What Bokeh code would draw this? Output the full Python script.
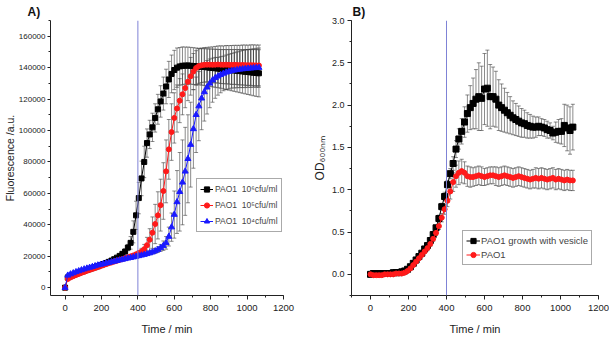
from bokeh.plotting import figure
from bokeh.models import (Range1d, SingleIntervalTicker, ColumnDataSource, Whisker, TeeHead,
                          Span, Legend, LegendItem, NumeralTickFormatter, BasicTickFormatter)
from bokeh.layouts import row
from bokeh.embed import file_html
from bokeh.resources import INLINE

# ---------------- data ----------------
time_min = list(range(0, 1080, 15))  # sampling times (min)
marker_time = 400

# Panel A: fluorescence (a.u.)
a_labels = ["PAO1\u00a0 10\u2076cfu/ml", "PAO1\u00a0 10\u2075cfu/ml", "PAO1\u00a0 10\u2074cfu/ml"]
a_black = [0, 6500, 7300, 8000, 8700, 9300, 10000, 10600, 11200, 11800,
           12400, 13000, 13600, 14300, 15000, 15700, 16400, 17200, 18100, 19100,
           20200, 21500, 23000, 25500, 28500, 35500, 46000, 57000, 69500, 80000,
           92000, 97500, 102000, 108000, 113500, 118500, 123500, 128000, 132500, 136000,
           138500, 140000, 140800, 141200, 141300, 141300, 141200, 141000, 140900, 140700,
           140500, 140400, 140200, 140000, 139800, 139600, 139400, 139200, 139000, 138800,
           138600, 138400, 138200, 138000, 137800, 137600, 137400, 137200, 137000, 136800,
           136600, 136400]
a_black_err = [0, 500, 500, 500, 500, 500, 500, 500, 500, 500,
               500, 500, 500, 500, 500, 500, 600, 700, 800, 900,
               1000, 1200, 1500, 2000, 4000, 7000, 9000, 10000, 11000, 10000,
               9000, 9000, 9000, 9000, 9500, 10000, 10500, 11000, 11500, 12000,
               12500, 12500, 12000, 12000, 11800, 11800, 11700, 11700, 11600, 11600,
               11600, 11700, 11800, 11900, 12000, 12100, 12200, 12300, 12500, 12700,
               12900, 13100, 13300, 13500, 13700, 13900, 14100, 14300, 14500, 14700,
               14900, 15000]
a_red = [0, 5500, 6500, 7300, 8000, 8700, 9400, 10000, 10700, 11300,
         11900, 12500, 13100, 13700, 14300, 14900, 15500, 16000, 16600, 17100,
         17700, 18200, 18800, 19300, 19900, 20500, 21200, 22000, 23000, 24500,
         27000, 30500, 35000, 40500, 46000, 52500, 61500, 74000, 88000, 99000,
         108000, 114000, 119000, 123000, 127000, 131000, 134500, 137500, 139800, 141000,
         141500, 141800, 141900, 141900, 141800, 141900, 142000, 141900, 141800, 141900,
         141800, 141700, 141800, 141700, 141600, 141700, 141600, 141500, 141600, 141500,
         141400, 141400]
a_red_err = [0, 500, 500, 500, 500, 500, 500, 500, 500, 500,
             500, 500, 500, 500, 500, 500, 500, 500, 600, 600,
             700, 700, 800, 800, 900, 1000, 1200, 1500, 2000, 3000,
             5000, 7000, 10000, 12500, 15000, 16500, 18000, 20000, 19000, 18000,
             16000, 15000, 14000, 13000, 12500, 12000, 12000, 11500, 11000, 11000,
             11000, 11000, 11000, 11200, 11400, 11600, 11800, 12000, 12000, 12200,
             12200, 12400, 12400, 12500, 12600, 12700, 12800, 12800, 12900, 13000,
             13000, 13000]
a_blue = [0, 7800, 8600, 9300, 10000, 10600, 11200, 11800, 12300, 12800,
          13300, 13800, 14300, 14700, 15100, 15500, 15900, 16300, 16700, 17100,
          17500, 17900, 18300, 18700, 19000, 19400, 19800, 20200, 20600, 21000,
          21500, 22000, 22600, 23300, 24200, 25300, 26700, 28500, 32500, 38500,
          46500, 54500, 61000, 67000, 74000, 82000, 91000, 101000, 110000, 115500,
          120500, 124500, 127500, 130000, 132000, 133500, 134500, 135500, 136300, 137000,
          137500, 138000, 138300, 138600, 138900, 139100, 139300, 139500, 139600, 139800,
          139900, 140000]
a_blue_err = [0, 500, 500, 500, 500, 500, 500, 500, 500, 500,
              500, 500, 500, 500, 500, 500, 500, 500, 500, 500,
              500, 500, 500, 500, 600, 600, 700, 700, 800, 800,
              900, 1000, 1200, 1500, 1800, 2200, 3000, 4000, 6000, 9000,
              15000, 20000, 25000, 27000, 28000, 28000, 27000, 25000, 24000, 22000,
              20000, 18500, 17000, 15500, 14000, 13000, 12000, 11500, 11000, 11000,
              11000, 11000, 11200, 11400, 11600, 11800, 12000, 12000, 12200, 12200,
              12400, 12500]

# Panel B: OD600nm
b_labels = ["PAO1 growth with vesicle", "PAO1"]
b_black = [0.00, 0.01, 0.01, 0.01, 0.01, 0.01, 0.01, 0.01, 0.02, 0.02,
           0.02, 0.03, 0.04, 0.06, 0.09, 0.13, 0.17, 0.21, 0.25, 0.30,
           0.34, 0.40, 0.47, 0.55, 0.66, 0.80, 0.92, 1.06, 1.19, 1.31,
           1.48, 1.60, 1.69, 1.80, 1.90, 1.97, 2.02, 2.07, 2.10, 2.08,
           2.19, 2.20, 2.10, 2.10, 2.07, 2.00, 1.97, 1.94, 1.91, 1.88,
           1.85, 1.83, 1.81, 1.79, 1.78, 1.76, 1.75, 1.74, 1.74, 1.75,
           1.74, 1.73, 1.71, 1.70, 1.67, 1.68, 1.69, 1.69, 1.76, 1.73,
           1.70, 1.74]
b_black_err = [0.01, 0.01, 0.01, 0.01, 0.01, 0.01, 0.01, 0.01, 0.01, 0.01,
               0.01, 0.01, 0.01, 0.01, 0.01, 0.01, 0.01, 0.01, 0.01, 0.01,
               0.01, 0.02, 0.03, 0.03, 0.04, 0.04, 0.05, 0.05, 0.06, 0.08,
               0.10, 0.12, 0.15, 0.18, 0.22, 0.26, 0.30, 0.35, 0.40, 0.38,
               0.42, 0.45, 0.38, 0.35, 0.33, 0.30, 0.28, 0.26, 0.24, 0.22,
               0.20, 0.19, 0.18, 0.17, 0.16, 0.15, 0.14, 0.13, 0.12, 0.11,
               0.10, 0.10, 0.10, 0.09, 0.08, 0.12, 0.14, 0.15, 0.25, 0.27,
               0.28, 0.27]
b_red = [0.00, -0.01, -0.01, -0.01, -0.01, 0.00, 0.00, 0.00, 0.00, 0.01,
         0.01, 0.01, 0.02, 0.04, 0.07, 0.11, 0.15, 0.19, 0.23, 0.27,
         0.31, 0.36, 0.42, 0.49, 0.57, 0.67, 0.77, 0.87, 0.98, 1.09,
         1.16, 1.20, 1.22, 1.20, 1.16, 1.15, 1.15, 1.16, 1.17, 1.16,
         1.15, 1.16, 1.17, 1.17, 1.16, 1.15, 1.16, 1.17, 1.16, 1.15,
         1.14, 1.15, 1.16, 1.15, 1.14, 1.13, 1.12, 1.13, 1.14, 1.13,
         1.14, 1.13, 1.12, 1.13, 1.14, 1.12, 1.13, 1.12, 1.11, 1.12,
         1.11, 1.11]
b_red_err = [0.01, 0.01, 0.01, 0.01, 0.01, 0.01, 0.01, 0.01, 0.01, 0.01,
             0.01, 0.01, 0.01, 0.01, 0.01, 0.02, 0.02, 0.02, 0.02, 0.02,
             0.03, 0.03, 0.03, 0.03, 0.04, 0.05, 0.06, 0.07, 0.09, 0.11,
             0.13, 0.14, 0.14, 0.13, 0.12, 0.12, 0.11, 0.11, 0.11, 0.11,
             0.10, 0.10, 0.10, 0.10, 0.11, 0.11, 0.11, 0.11, 0.11, 0.11,
             0.11, 0.11, 0.11, 0.11, 0.11, 0.11, 0.11, 0.11, 0.12, 0.12,
             0.12, 0.12, 0.12, 0.12, 0.12, 0.12, 0.12, 0.12, 0.12, 0.12,
             0.12, 0.12]

for arr in (a_black, a_black_err, a_red, a_red_err, a_blue, a_blue_err,
            b_black, b_black_err, b_red, b_red_err):
    assert len(arr) == len(time_min), len(arr)

# ---------------- style ----------------
FONT = "Liberation Sans"
BLACK, RED, BLUE = "#000000", "#ff1a1a", "#1a1aff"
ERR = "#3c3c3c"
VLINE = "#7f83d6"


def base_fig(width, xr, yr, left, right, top, panel_label, label_offset):
    p = figure(width=width, height=337, x_range=xr, y_range=yr,
               output_backend="svg", toolbar_location=None,
               min_border_left=left, min_border_right=right,
               min_border_top=top, min_border_bottom=39)
    p.title.text = panel_label
    p.title.align = "left"
    p.title.offset = label_offset
    p.title.standoff = 3
    p.title.text_font = FONT
    p.title.text_font_size = "12px"
    p.title.text_font_style = "bold"
    p.title.text_color = "#111"
    p.grid.visible = False
    p.outline_line_color = None
    p.background_fill_color = "white"
    p.border_fill_color = "white"
    xa = p.xaxis[0]
    xa.ticker = SingleIntervalTicker(interval=200, num_minor_ticks=2)
    xa.axis_label = "Time / min"
    for ax in (p.xaxis[0], p.yaxis[0]):
        ax.axis_line_color = "#222"
        ax.major_tick_line_color = "#222"
        ax.minor_tick_line_color = "#222"
        ax.major_tick_out = 4
        ax.major_tick_in = 0
        ax.minor_tick_out = 2
        ax.minor_tick_in = 0
        ax.major_label_text_font = FONT
        ax.axis_label_text_font = FONT
        ax.axis_label_text_font_style = "normal"
        ax.major_label_text_color = "#222"
        ax.axis_label_text_color = "#222"
    xa.major_label_text_font_size = "9.5px"
    xa.major_label_standoff = 5
    xa.axis_label_text_font_size = "11px"
    xa.axis_label_standoff = 9
    return p


def add_series(p, y, err, color, marker, size):
    src = ColumnDataSource(dict(t=time_min, y=y,
                                lo=[v - e for v, e in zip(y, err)],
                                hi=[v + e for v, e in zip(y, err)]))
    w = Whisker(base="t", upper="hi", lower="lo", source=src, line_color=ERR, line_width=0.6,
                upper_head=TeeHead(size=4, line_color=ERR, line_width=0.6),
                lower_head=TeeHead(size=4, line_color=ERR, line_width=0.6), level="underlay")
    p.add_layout(w)
    ln = p.line("t", "y", source=src, line_color=color, line_width=1)
    sc = p.scatter("t", "y", source=src, marker=marker, size=size,
                   fill_color=color, line_color=color)
    return [ln, sc]


# ---------------- panel A ----------------
pa = base_fig(304, Range1d(-80, 1200), Range1d(-5000, 170000), 45, 21, 20, "A)", -23)
ya = pa.yaxis[0]
ya.ticker = SingleIntervalTicker(interval=20000, num_minor_ticks=2)
ya.formatter = BasicTickFormatter(use_scientific=False)
ya.major_label_text_font_size = "8px"
ya.major_label_standoff = 2
ya.major_tick_out = 3
ya.axis_label = "Fluorescence /a.u."
ya.axis_label_text_font_size = "10.5px"
ya.axis_label_standoff = 0

pa.add_layout(Span(location=marker_time, dimension="height", line_color=VLINE, line_width=1))
ra1 = add_series(pa, a_black, a_black_err, BLACK, "square", 5)
ra2 = add_series(pa, a_red, a_red_err, RED, "circle", 5)
ra3 = add_series(pa, a_blue, a_blue_err, BLUE, "triangle", 6)

lega = Legend(items=[LegendItem(label=a_labels[0], renderers=ra1),
                     LegendItem(label=a_labels[1], renderers=ra2),
                     LegendItem(label=a_labels[2], renderers=ra3)],
              location=(146, 63), label_text_font=FONT, label_text_font_size="8.5px",
              glyph_width=13, glyph_height=14, spacing=2, padding=3, margin=0,
              label_standoff=2, border_line_color="#555", border_line_width=1,
              background_fill_alpha=1)
pa.add_layout(lega, "center")

# ---------------- panel B ----------------
pb = base_fig(305, Range1d(-100, 1200), Range1d(-0.25, 3.0), 47, 11, 19, "B)", 1)
yb = pb.yaxis[0]
yb.ticker = SingleIntervalTicker(interval=0.5, num_minor_ticks=2)
yb.formatter = NumeralTickFormatter(format="0.0")
yb.major_label_text_font_size = "9px"
yb.major_label_standoff = 3
yb.axis_label = "OD\u2086\u2080\u2080\u2099\u2098"
yb.axis_label_text_font_size = "12px"
yb.axis_label_standoff = 2

pb.add_layout(Span(location=marker_time, dimension="height", line_color=VLINE, line_width=1))
rb1 = add_series(pb, b_black, b_black_err, BLACK, "square", 6)
rb2 = add_series(pb, b_red, b_red_err, RED, "circle", 5)

legb = Legend(items=[LegendItem(label=b_labels[0], renderers=rb1),
                     LegendItem(label=b_labels[1], renderers=rb2)],
              location=(111, 30), label_text_font=FONT, label_text_font_size="9.5px",
              glyph_width=14, glyph_height=13, spacing=1, padding=3, margin=0,
              label_standoff=1, border_line_color="#555", border_line_width=1,
              background_fill_alpha=1)
pb.add_layout(legb, "center")

layout = row(pa, pb)
open("out.html", "w").write(file_html(layout, INLINE))
